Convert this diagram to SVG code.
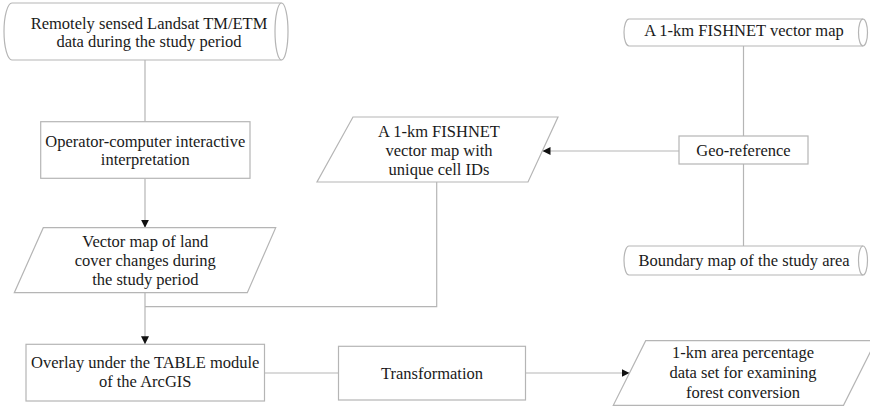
<svg xmlns="http://www.w3.org/2000/svg" width="870" height="408" viewBox="0 0 870 408">
  <style>
    .shape { fill: #ffffff; stroke: #b5b5b5; stroke-width: 1.2; }
    .inner { fill: none; stroke: #b5b5b5; stroke-width: 1.2; }
    .link { fill: none; stroke: #b5b5b5; stroke-width: 1.2; }
    text { font-family: "Liberation Serif", "Times New Roman", serif; font-size: 16.5px; fill: #1a1a1a; text-anchor: middle; }
  </style>
  <defs>
    <marker id="arrow" viewBox="0 0 10 10" refX="10" refY="5" markerWidth="8" markerHeight="8" markerUnits="userSpaceOnUse" orient="auto">
      <path d="M0,0 L10,5 L0,10 Z" fill="#111111"/>
    </marker>
  </defs>
  <rect width="870" height="408" fill="#ffffff"/>

  <!-- connectors -->
  <g id="connectors">
    <path class="link" d="M145,60 V121.7"/>
    <path class="link" d="M145,178.3 V227.7" marker-end="url(#arrow)"/>
    <path class="link" d="M145,292.7 V344.3" marker-end="url(#arrow)"/>
    <path class="link" d="M436.7,182 V306.7 H145"/>
    <path class="link" d="M743.5,46 V136"/>
    <path class="link" d="M743.5,164 V246"/>
    <path class="link" d="M679,151 H542.5" marker-end="url(#arrow)"/>
    <path class="link" d="M264.5,373 H338.5"/>
    <path class="link" d="M525.5,373 H629.5" marker-end="url(#arrow)"/>
  </g>

  <!-- source imagery (stored data) -->
  <g id="landsat">
    <path class="shape" d="M12,3 H281.5 A6.5,28.5 0 0 1 281.5,60 H12 A8,28.5 0 0 1 12,3 Z"/>
    <path class="inner" d="M281.5,3 A6.5,28.5 0 0 0 281.5,60"/>
    <text x="149" y="28.5">Remotely sensed Landsat TM/ETM</text>
    <text x="149" y="47">data during the study period</text>
  </g>

  <g id="interpretation">
    <rect class="shape" x="40.7" y="121.7" width="209.3" height="56.6"/>
    <text x="145.3" y="146.5">Operator-computer interactive</text>
    <text x="145.3" y="164.5">interpretation</text>
  </g>

  <g id="landcover-map">
    <polygon class="shape" points="43.3,227.7 275.7,227.7 247.3,292.7 14.3,292.7"/>
    <text x="145.3" y="246.7">Vector map of land</text>
    <text x="145.3" y="266">cover changes during</text>
    <text x="145.3" y="285.2">the study period</text>
  </g>

  <g id="fishnet-ids">
    <polygon class="shape" points="353,117 558,117 528,182 317,182"/>
    <text x="439" y="136.8">A 1-km FISHNET</text>
    <text x="439" y="156">vector map with</text>
    <text x="439" y="175.2">unique cell IDs</text>
  </g>

  <g id="fishnet">
    <path class="shape" d="M629,19 H863 A4.5,13.5 0 0 1 863,46 H629 A5,13.5 0 0 1 629,19 Z"/>
    <path class="inner" d="M863,19 A4.5,13.5 0 0 0 863,46"/>
    <text x="744" y="36">A 1-km FISHNET vector map</text>
  </g>

  <g id="georeference">
    <rect class="shape" x="679" y="136" width="129" height="28"/>
    <text x="743.5" y="155.5">Geo-reference</text>
  </g>

  <g id="boundary">
    <path class="shape" d="M629,246 H863 A4.5,14.5 0 0 1 863,275 H629 A5,14.5 0 0 1 629,246 Z"/>
    <path class="inner" d="M863,246 A4.5,14.5 0 0 0 863,275"/>
    <text x="744" y="266">Boundary map of the study area</text>
  </g>

  <g id="overlay">
    <rect class="shape" x="26" y="344.3" width="238.5" height="56.7"/>
    <text x="145.2" y="368.3">Overlay under the TABLE module</text>
    <text x="145.2" y="387.3">of the ArcGIS</text>
  </g>

  <g id="transformation">
    <rect class="shape" x="338.5" y="346.3" width="187" height="53.7"/>
    <text x="432" y="378.5">Transformation</text>
  </g>

  <g id="percentage">
    <polygon class="shape" points="645.7,340.7 876,340.7 843.5,405.3 613.3,405.3"/>
    <text x="743" y="358.3">1-km area percentage</text>
    <text x="743" y="378">data set for examining</text>
    <text x="743" y="397.5">forest conversion</text>
  </g>
</svg>
